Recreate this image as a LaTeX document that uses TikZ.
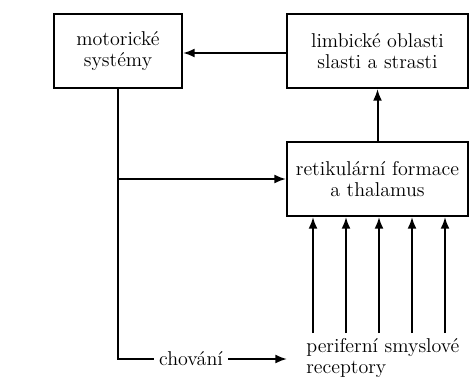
\documentclass[tikz,border=0pt]{standalone}
\usetikzlibrary{shapes,arrows.meta}

\begin{document}
\begin{tikzpicture}[x=0.6pt, y=-0.6pt, font=\fontsize{12}{12.5}\selectfont]
    % styly uzlu a sipek
    \tikzstyle{block} = [rectangle, minimum height=44.4pt, align=center, draw=black, line width=1.2pt, fill=white]
    \tikzstyle{label} = [inner xsep=11.4pt, inner ysep=1pt, align=left]
    \tikzstyle{line} = [line width=1.2pt]
    \tikzstyle{arrow} = [line width=1.2pt,-{Latex[length=7pt,width=5.4pt]}]

    \useasboundingbox (0,0) rectangle (469,376);
    \fill[white] (0,0) rectangle (469,376);

    % uzly
    \node [block, minimum width=76.8pt] (motor) at (118,51) {motorické\\systémy};
    \node [block, minimum width=108.6pt] (limbic) at (377.5,51) {limbické oblasti\\slasti a strasti};
    \node [block, minimum width=108.6pt] (retik) at (377.5,179) {retikulární formace\\a thalamus};
    \node [label, anchor=west] (perif) at (287,358) {periferní smyslové\\receptory};
    \node [inner sep=3pt] (chovani) at (191,359) {chování};

    % sipky
    \draw [arrow] (limbic.west |- 0,53) -- (motor.east |- 0,53);
    \draw [arrow] (retik) -- (limbic);
    \draw [line] (motor.south) |- (chovani.west);
    \draw [arrow] (motor.south |- retik.west) -- (retik.west);
    \draw [arrow] (chovani.east) -- (chovani -| perif.west);
    \foreach \x [count=\i] in {313,346,379,412,445} {
        \coordinate (r\i) at (\x,333);
        \draw [arrow] (r\i) -- (r\i |- retik.south);
    }
\end{tikzpicture}
\end{document}
